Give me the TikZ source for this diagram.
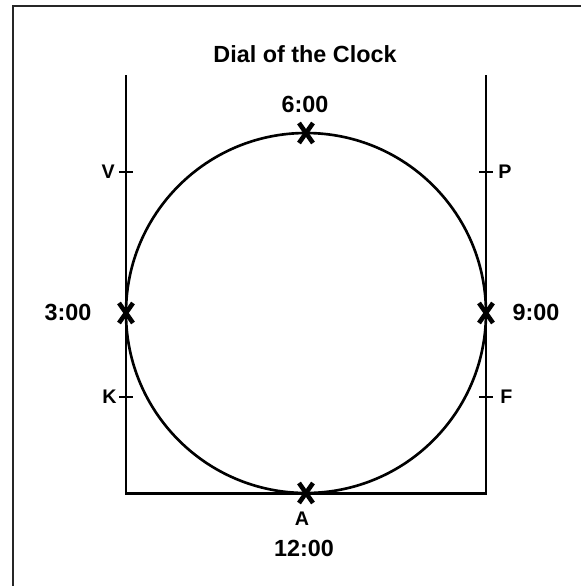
\documentclass[tikz,border=0pt]{standalone}
\usepackage{fontspec}
\setmainfont{Liberation Sans}
\usetikzlibrary{calc}
\tikzset{
  frame/.style={line width=1.7pt, line join=miter},
  crossmark/.style={line width=2.6pt},
  biglabel/.style={font=\fontsize{13.3}{16}\selectfont\bfseries, inner sep=0pt},
  letter/.style={font=\fontsize{11.2}{13}\selectfont\bfseries, inner sep=0pt}
}
\newcommand{\xmark}[1]{\draw[crossmark] ($(#1)+(-7,-10)$) -- ($(#1)+(7,10)$) ($(#1)+(-7,10)$) -- ($(#1)+(7,-10)$);}
\begin{document}
\begin{tikzpicture}[x=0.02cm, y=-0.02cm]
 \useasboundingbox (0,0) rectangle (581,586);
 % outer border
 \draw[line width=1.4pt, black!85] (13,586) -- (13,6) -- (581,6);
 % square round the dial
 \coordinate (lt) at (126,75);
 \coordinate (lb) at (126,493);
 \coordinate (rb) at (486,493);
 \coordinate (rt) at (486,75);
 \draw[frame] (lt) -- (lb) -- (rb) -- (rt);
 % the dial
 \coordinate (c) at (306,313);
 \draw[line width=1.5pt] (c) circle (180);
 \coordinate (six) at (306,133);
 \coordinate (three) at (126,313);
 \coordinate (nine) at (486,313);
 \coordinate (twelve) at (306,493);
 \xmark{six}
 \xmark{three}
 \xmark{nine}
 \xmark{twelve}
 % ticks
 \coordinate (v) at (126,172);
 \coordinate (k) at (126,397);
 \coordinate (p) at (486,172);
 \coordinate (f) at (486,397);
 \foreach \t in {v,k,p,f}
   \draw[line width=1.5pt] ($(\t)+(-7,0)$) -- ($(\t)+(7,0)$);
 \node[letter, anchor=east] (lv) at (115,172) {V};
 \node[letter, anchor=east] (lk) at (117,397) {K};
 \node[letter, anchor=west] (lp) at (498,172) {P};
 \node[letter, anchor=west] (lf) at (500,397) {F};
 % labels
 \node[biglabel] (title) at (305,54) {Dial of the Clock};
 \node[biglabel] (l6) at (305,104) {6:00};
 \node[biglabel] (l3) at (68,312) {3:00};
 \node[biglabel] (l9) at (536,312) {9:00};
 \node[letter] (la) at (302,519) {A};
 \node[biglabel] (l12) at (304,548) {12:00};
\end{tikzpicture}
\end{document}
